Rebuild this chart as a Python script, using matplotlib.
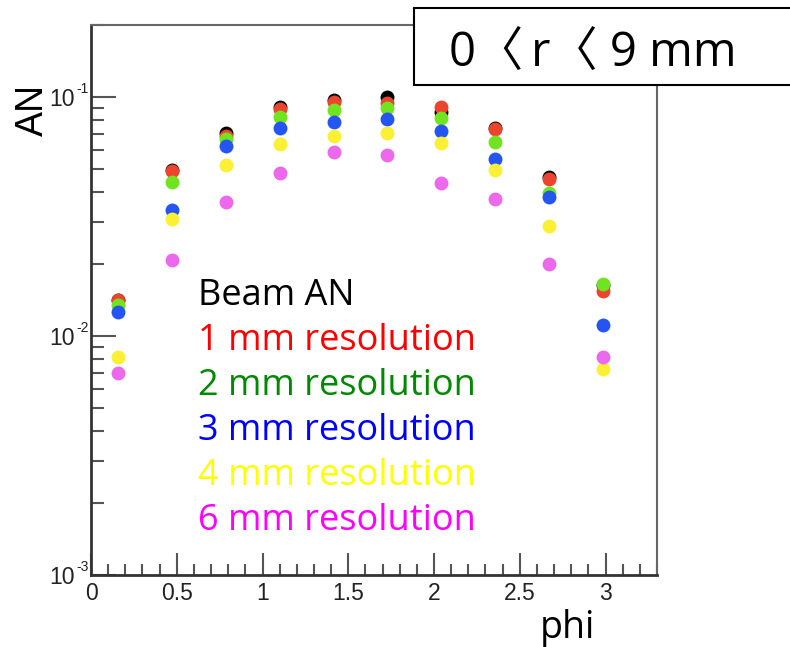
import matplotlib
matplotlib.use("Agg")
import matplotlib.pyplot as plt
from matplotlib.patches import Rectangle
from matplotlib.ticker import MultipleLocator, LogLocator, FixedLocator, NullFormatter

phi = [0.157, 0.471, 0.785, 1.100, 1.414, 1.728, 2.042, 2.356, 2.670, 2.985]
beam = [0.0142, 0.0495, 0.0707, 0.0908, 0.0971, 0.100, 0.0866, 0.0745, 0.0463, 0.0163]
res1 = [0.01415, 0.049, 0.0687, 0.0891, 0.0953, 0.0944, 0.0908, 0.0735, 0.0454, 0.0154]
res2 = [0.0135, 0.0441, 0.0667, 0.0825, 0.0882, 0.0899, 0.0817, 0.0648, 0.0397, 0.0165]
res3 = [0.0126, 0.0337, 0.0624, 0.0742, 0.0786, 0.0809, 0.0720, 0.0550, 0.0382, 0.0111]
res4 = [0.0082, 0.0309, 0.0519, 0.0636, 0.0687, 0.0707, 0.0642, 0.0495, 0.0289, 0.0073]
res6 = [0.0070, 0.0208, 0.0364, 0.0481, 0.0589, 0.0572, 0.0437, 0.0374, 0.0200, 0.0082]

labels = ["Beam AN", "1 mm resolution", "2 mm resolution", "3 mm resolution",
          "4 mm resolution", "6 mm resolution"]
series = [beam, res1, res2, res3, res4, res6]
marker_colors = ["#000000", "#eb4530", "#70e41e", "#2454f2", "#fbf033", "#ec68ec"]
text_colors = ["#000000", "#ff0000", "#008a00", "#0000ff", "#ffff00", "#ff00ff"]

y_major = [1e-3, 1e-2, 1e-1]
y_exponents = ["-3", "-2", "-1"]
x_ticks = [0, 0.5, 1, 1.5, 2, 2.5, 3]
x_ticklabels = ['0', '0.5', '1', '1.5', '2', '2.5', '3']
title = '0\u3008\u2009r\u3008 9 mm'

W, H = 790, 647
fig = plt.figure(figsize=(W / 100, H / 100), dpi=100)
ax = fig.add_axes([91 / W, 1 - 575 / H, (657 - 91) / W, (575 - 25) / H])

for vals, c in zip(series, marker_colors):
    ax.plot(phi, vals, 'o', color=c, markersize=10, markeredgewidth=0, linestyle='none')

ax.set_yscale('log')
ax.set_xlim(0, 3.3)
ax.set_ylim(1e-3, 0.2)

ax.xaxis.set_minor_locator(MultipleLocator(0.1))
ax.set_xticks(x_ticks)
ax.set_xticklabels(x_ticklabels)
ax.yaxis.set_major_locator(FixedLocator(y_major))
ax.yaxis.set_minor_locator(LogLocator(base=10, subs=range(2, 10)))
ax.yaxis.set_minor_formatter(NullFormatter())
ax.set_yticklabels(['10'] * len(y_major))

ax.tick_params(which='both', direction='in', top=False, right=False, color='#555555', width=1.5)
ax.tick_params(which='major', axis='y', length=18, pad=11.5)
ax.tick_params(which='minor', axis='y', length=9)
ax.tick_params(which='major', axis='x', length=16, pad=5)
ax.tick_params(which='minor', axis='x', length=8)
for lab in ax.get_xticklabels() + ax.get_yticklabels():
    lab.set_fontfamily('Liberation Sans')
    lab.set_fontsize(16.5)
    lab.set_color('#222222')

# exponent superscripts of y tick labels
for v, e in zip(y_major, y_exponents):
    ax.annotate(e, xy=(0, v), xycoords=('axes fraction', 'data'),
                xytext=(-15, 8), textcoords='offset pixels', ha='left', va='center',
                fontsize=10, family='Liberation Sans', color='#222222')

for s in ['left', 'bottom']:
    ax.spines[s].set_linewidth(2)
    ax.spines[s].set_color('#333333')
for s in ['top', 'right']:
    ax.spines[s].set_linewidth(1.5)
    ax.spines[s].set_color('#666666')

# legend-like texts
ys = [296, 341, 386, 431, 476, 521]
for lab, c, y in zip(labels, text_colors, ys):
    fig.text(198 / W, 1 - y / H, lab, color=c, fontsize=26,
             family=['Open Sans', 'DejaVu Sans'], ha='left', va='center')

# axis labels
fig.text(33 / W, 1 - 110 / H, 'AN', rotation=90, fontsize=27, family='Liberation Sans',
         ha='center', va='center')
fig.text(540 / W, 1 - 638 / H, 'phi', fontsize=27, family=['Open Sans', 'DejaVu Sans'],
         ha='left', va='baseline')

# title box
fig.patches.append(Rectangle((414 / W, 1 - 85 / H), (800 - 414) / W, 77 / H,
                             transform=fig.transFigure, facecolor='white',
                             edgecolor='black', linewidth=1.5, zorder=5))
fig.text(449 / W, 1 - 67 / H, title, fontsize=34,
         family=['Open Sans', 'Noto Sans CJK KR', 'DejaVu Sans'],
         ha='left', va='baseline', zorder=6)

fig.savefig('out.png', dpi=100)
